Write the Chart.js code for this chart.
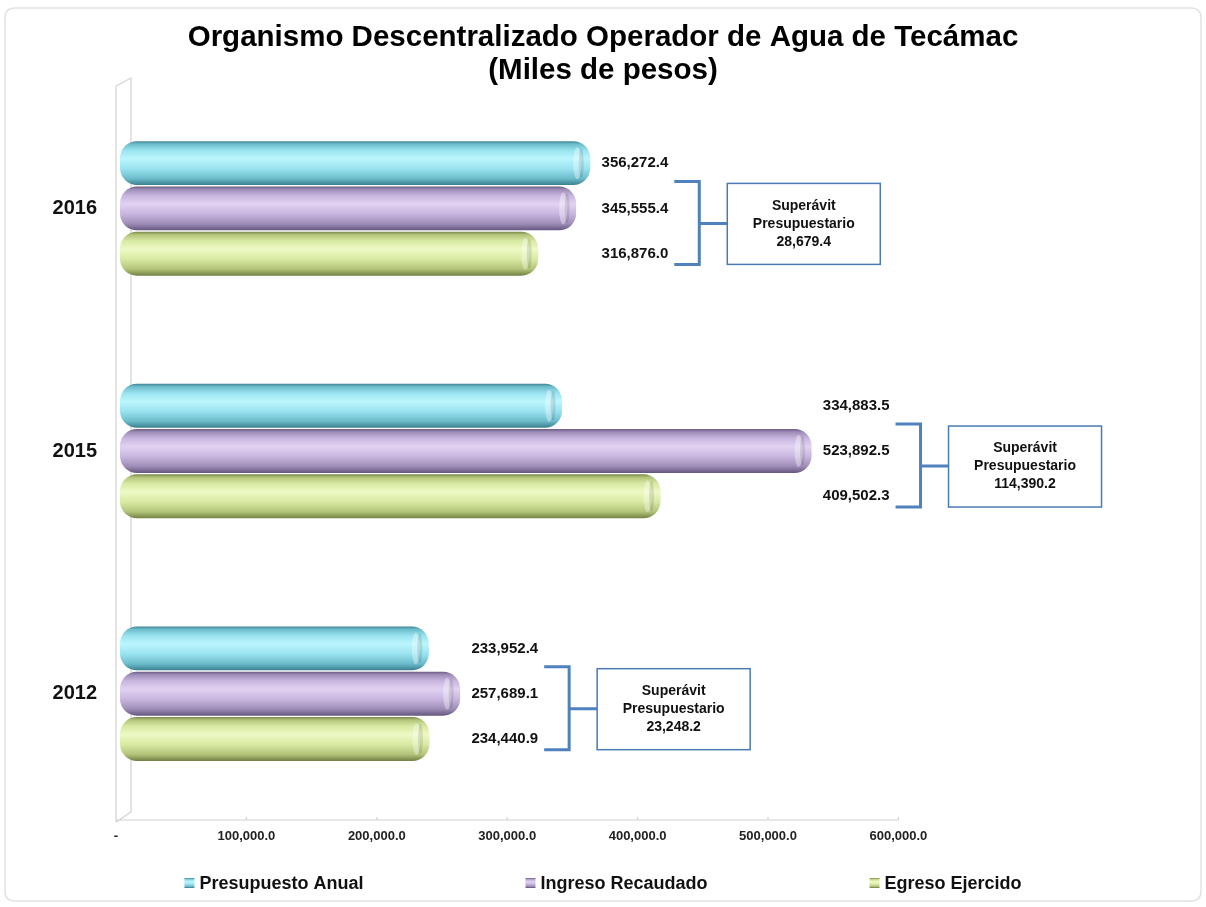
<!DOCTYPE html>
<html>
<head>
<meta charset="utf-8">
<script src="https://cdn.jsdelivr.net/npm/chart.js@4.4.1/dist/chart.umd.min.js"></script>
<style>
html,body{margin:0;padding:0;background:#ffffff;}
#wrap{width:1206px;height:907px;position:relative;}
</style>
</head>
<body>
<div id="wrap"><canvas id="c" width="1206" height="907"></canvas></div>
<script>
// ---- data ----
const categories = ['2016', '2015', '2012'];
const presupuestoAnual = [356272.4, 334883.5, 233952.4];
const ingresoRecaudado = [345555.4, 523892.5, 257689.1];
const egresoEjercido   = [316876.0, 409502.3, 234440.9];
const superavit        = [28679.4, 114390.2, 23248.2];
const seriesNames = ['Presupuesto Anual', 'Ingreso Recaudado', 'Egreso Ejercido'];
const xTickValues = [0, 100000, 200000, 300000, 400000, 500000, 600000];
const titleLines = ['Organismo Descentralizado Operador de Agua de Tecámac', '(Miles de pesos)'];
const boxTitleLines = ['Superávit', 'Presupuestario'];

// ---- style ----
const FONT = "'Liberation Sans', Arial, Helvetica, sans-serif";
const CAT_PCT = 0.56;
const palette = [
  {edge:'#357888', low:'#6cbccb', mid:'#9ae3f0', light:'#bcf6fd'},
  {edge:'#5f507a', low:'#9d8db6', mid:'#c9b6df', light:'#e1d2f1'},
  {edge:'#6c7a3e', low:'#b3c47a', mid:'#d8eaa3', light:'#eef9c5'}
];

function fmt(v){
  const s = v.toFixed(1);
  const parts = s.split('.');
  return parts[0].replace(/\B(?=(\d{3})+(?!\d))/g, ',') + '.' + parts[1];
}

function makeGrad(c, p, top, h){
  const g = c.createLinearGradient(0, top, 0, top + h);
  g.addColorStop(0, p.edge);
  g.addColorStop(0.08, p.low);
  g.addColorStop(0.22, p.mid);
  g.addColorStop(0.4, p.light);
  g.addColorStop(0.62, p.mid);
  g.addColorStop(0.84, p.low);
  g.addColorStop(1, p.edge);
  return g;
}

function barFill(ctx){
  const p = palette[ctx.datasetIndex];
  const chart = ctx.chart, ca = chart.chartArea;
  if (!ca || ctx.type !== 'data' || !chart.scales.y) return p.mid;
  const ys = chart.scales.y;
  const cat = (ca.bottom - ca.top) / categories.length;
  const group = cat * CAT_PCT;
  const bh = group / 3;
  const top = ys.getPixelForValue(ctx.dataIndex) - group / 2 + ctx.datasetIndex * bh;
  return makeGrad(chart.ctx, p, top, bh);
}

function roundRect(c, x, y, w, h, r){
  c.beginPath();
  c.moveTo(x + r, y);
  c.lineTo(x + w - r, y); c.quadraticCurveTo(x + w, y, x + w, y + r);
  c.lineTo(x + w, y + h - r); c.quadraticCurveTo(x + w, y + h, x + w - r, y + h);
  c.lineTo(x + r, y + h); c.quadraticCurveTo(x, y + h, x, y + h - r);
  c.lineTo(x, y + r); c.quadraticCurveTo(x, y, x + r, y);
  c.closePath();
}

const decor = {
  id: 'decor',
  beforeDraw(chart){
    const c = chart.ctx;
    c.save();
    c.strokeStyle = '#e2e2e2';
    c.lineWidth = 1.5;
    roundRect(c, 5, 8, 1196, 893, 10);
    c.stroke();
    c.restore();
  },
  beforeDatasetsDraw(chart){
    const c = chart.ctx, ca = chart.chartArea, xt = chart.scales.xt;
    const x0 = xt.getPixelForValue(0), x1 = x0 + 15;
    const floorY = ca.bottom + 5;
    c.save();
    c.strokeStyle = '#d2d2d2';
    c.lineWidth = 1.2;
    c.beginPath();
    c.moveTo(x0, floorY + 2); c.lineTo(x0, ca.top - 1); c.lineTo(x1, ca.top - 9);
    c.lineTo(x1, ca.bottom - 3); c.lineTo(x0, floorY + 2);
    c.moveTo(x0, floorY); c.lineTo(xt.getPixelForValue(600000), floorY);
    xTickValues.forEach(v => {
      const px = xt.getPixelForValue(v);
      c.moveTo(px, floorY - 3); c.lineTo(px, floorY);
    });
    c.stroke();
    c.restore();
  },
  afterDatasetsDraw(chart){
    const c = chart.ctx, xs = chart.scales.x, ys = chart.scales.y;
    c.save();
    // cap highlights
    chart.data.datasets.forEach((ds, d) => {
      chart.getDatasetMeta(d).data.forEach(el => {
        const h = el.height;
        c.beginPath();
        c.ellipse(el.x - 13, el.y, 4, h / 2 - 6, 0, 0, Math.PI * 2);
        c.fillStyle = 'rgba(255,255,255,0.35)';
        c.fill();
        c.beginPath();
        c.ellipse(el.x - 9, el.y, 2.5, h / 2 - 7, 0, 0, Math.PI * 2);
        c.fillStyle = 'rgba(0,0,0,0.10)';
        c.fill();
      });
    });
    // value labels, brackets and boxes
    categories.forEach((cat, i) => {
      const vals = [presupuestoAnual[i], ingresoRecaudado[i], egresoEjercido[i]];
      const maxV = Math.max.apply(null, vals);
      const rightX = xs.getPixelForValue(maxV) + 78;
      c.fillStyle = '#111';
      c.font = 'bold 15px ' + FONT;
      c.textAlign = 'right';
      c.textBaseline = 'middle';
      vals.forEach((v, d) => {
        const el = chart.getDatasetMeta(d).data[i];
        c.fillText(fmt(v), rightX, el.y);
      });
      const cy = ys.getPixelForValue(i);
      const bx0 = rightX + 6, vx = bx0 + 25, bl = vx + 28;
      const top = cy - 27, bot = cy + 56, mid = cy + 15;
      c.strokeStyle = '#4f81bd';
      c.lineWidth = 3;
      c.beginPath();
      c.moveTo(bx0, top); c.lineTo(vx, top); c.lineTo(vx, bot); c.lineTo(bx0, bot);
      c.moveTo(vx, mid); c.lineTo(bl, mid);
      c.stroke();
      const bt = cy - 25, bb = cy + 56, bw = 153;
      c.lineWidth = 1.5;
      c.strokeStyle = '#4a7ab4';
      c.strokeRect(bl, bt, bw, bb - bt);
      c.fillStyle = '#111';
      c.font = 'bold 14px ' + FONT;
      c.textAlign = 'center';
      const bm = (bt + bb) / 2, bcx = bl + bw / 2;
      c.fillText(boxTitleLines[0], bcx, bm - 18);
      c.fillText(boxTitleLines[1], bcx, bm);
      c.fillText(fmt(superavit[i]), bcx, bm + 18);
    });
    c.restore();
  },
  afterDraw(chart){
    const c = chart.ctx;
    c.save();
    c.font = 'bold 18px ' + FONT;
    c.textBaseline = 'middle';
    c.textAlign = 'left';
    const box = 10, gapBox = 5, gap = 162;
    const widths = seriesNames.map(n => box + gapBox + c.measureText(n).width);
    const total = widths.reduce((a, b) => a + b, 0) + gap * (seriesNames.length - 1);
    let x = 603 - total / 2;
    const y = 883;
    seriesNames.forEach((n, d) => {
      c.fillStyle = makeGrad(c, palette[d], y - box / 2, box);
      c.fillRect(x, y - box / 2, box, box);
      c.fillStyle = '#111';
      c.fillText(n, x + box + gapBox, y + 1);
      x += widths[d] + gap;
    });
    c.restore();
  }
};

const datasets = [presupuestoAnual, ingresoRecaudado, egresoEjercido].map((arr, d) => ({
  label: seriesNames[d],
  data: arr,
  backgroundColor: barFill,
  borderWidth: 0,
  borderRadius: 17,
  borderSkipped: false,
  barPercentage: 0.97,
  categoryPercentage: CAT_PCT
}));

new Chart(document.getElementById('c'), {
  type: 'bar',
  data: { labels: categories, datasets: datasets },
  options: {
    indexAxis: 'y',
    responsive: false,
    animation: false,
    devicePixelRatio: 1,
    layout: { padding: 0 },
    plugins: {
      legend: { display: false },
      tooltip: { enabled: false },
      title: {
        display: true,
        text: titleLines,
        color: '#000',
        font: { family: FONT, size: 29.5, weight: 'bold', lineHeight: 1.12 },
        padding: { top: 21, bottom: 0 }
      }
    },
    scales: {
      y: {
        type: 'category',
        position: 'left',
        grid: { display: false, drawTicks: false },
        border: { display: false },
        ticks: { padding: 23, color: '#111', font: { family: FONT, size: 20, weight: 'bold' } },
        afterFit(s){ s.width = 120; }
      },
      yr: {
        type: 'category',
        position: 'right',
        grid: { display: false, drawTicks: false },
        border: { display: false },
        ticks: { display: false },
        afterFit(s){ s.width = 294; }
      },
      x: { type: 'linear', min: 0, max: 600000, display: false },
      xt: {
        type: 'linear',
        axis: 'x',
        position: 'bottom',
        min: 3067,
        max: 610429,
        grid: { display: false, drawTicks: false },
        border: { display: false },
        afterBuildTicks(s){ s.ticks = xTickValues.map(v => ({ value: v })); },
        ticks: {
          padding: 14,
          autoSkip: false,
          maxRotation: 0,
          color: '#222',
          font: { family: FONT, size: 13, weight: 'bold' },
          callback: (v) => v === 0 ? '-' : fmt(v)
        },
        afterFit(s){ s.height = 92; }
      }
    }
  },
  plugins: [decor]
});
</script>
</body>
</html>
